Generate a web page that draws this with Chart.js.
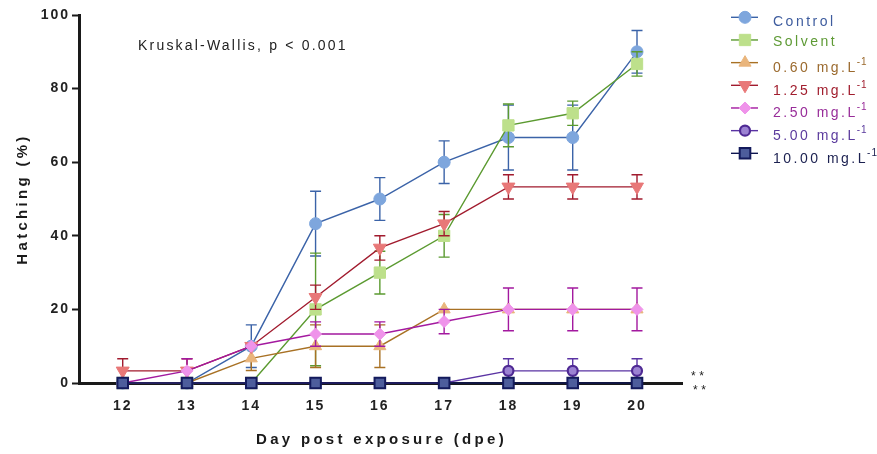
<!DOCTYPE html>
<html>
<head>
<meta charset="utf-8">
<script src="https://cdn.jsdelivr.net/npm/chart.js@4.4.0/dist/chart.umd.min.js"></script>
<style>
  html, body { margin: 0; padding: 0; background: #fff; }
</style>
</head>
<body>
<canvas id="chart" width="877" height="454"></canvas>
<script>
// days post exposure and y ticks
const days = [12, 13, 14, 15, 16, 17, 18, 19, 20];
const yTicks = [0, 20, 40, 60, 80, 100];
const groups = ['Control', 'Solvent', '0.60', '1.25', '2.50', '5.00', '10.00'];

// hatching (%) per group, with error (SEM)
const control   = [0, 0, 10, 43.3, 50, 60, 66.7, 66.7, 90];
const controlSd = [0, 0, 5.8, 8.8, 5.8, 5.8, 8.8, 8.8, 5.8];
const solvent   = [0, 0, 0, 20, 30, 40, 70, 73.3, 86.7];
const solventSd = [0, 0, 0, 15.3, 5.8, 5.8, 5.8, 3.3, 3.3];
const c060      = [0, 0, 6.7, 10, 10, 20, 20, 20, 20];
const c060Sd    = [0, 0, 3.3, 5.8, 5.8, 0, 0, 0, 0];
const c125      = [3.3, 3.3, 10, 23.3, 36.7, 43.3, 53.3, 53.3, 53.3];
const c125Sd    = [3.3, 3.3, 0, 3.3, 3.3, 3.3, 3.3, 3.3, 3.3];
const c250      = [0, 3.3, 10, 13.3, 13.3, 16.7, 20, 20, 20];
const c250Sd    = [0, 3.3, 0, 3.3, 3.3, 3.3, 5.8, 5.8, 5.8];
const c500      = [0, 0, 0, 0, 0, 0, 3.3, 3.3, 3.3];
const c500Sd    = [0, 0, 0, 0, 0, 0, 3.3, 3.3, 3.3];
const c1000     = [0, 0, 0, 0, 0, 0, 0, 0, 0];
const c1000Sd   = [0, 0, 0, 0, 0, 0, 0, 0, 0];

const values = [control, solvent, c060, c125, c250, c500, c1000];
const errors = [controlSd, solventSd, c060Sd, c125Sd, c250Sd, c500Sd, c1000Sd];

// styles
const lineColors = ['#3b63a8', '#5b9a30', '#a87124', '#a11b2e', '#a3199f', '#5a33a3', '#0f1650'];
const fillColors = ['#7ea6dd', '#bde08b', '#e9b57c', '#e87878', '#ef93ea', '#9b82d2', '#4d5d9c'];
const edgeColors = ['#7ea6dd', '#bde08b', '#e9b57c', '#e87878', '#ef93ea', '#4f2a94', '#131a5c'];
const textColors = ['#3e5c9e', '#5e9a35', '#9b6a2e', '#a11e2e', '#982c99', '#5b3b9d', '#1b2050'];
const shapes = ['circle', 'rect', 'triangle', 'triangle', 'rectRot', 'circle', 'rect'];
const rotations = [0, 0, 0, 180, 0, 0, 0];
const radii = [6, 8, 7, 7.5, 6, 5, 7.5];
const edgeWidths = [1, 1, 1, 1, 1, 2.2, 2];

const font = '"Liberation Sans", Arial, sans-serif';
const axisColor = '#1a1a1a';

const datasets = groups.map((g, i) => ({
  label: g,
  data: days.map((d, j) => ({ x: d, y: values[i][j] })),
  errors: errors[i],
  borderColor: lineColors[i],
  borderWidth: 1.4,
  pointStyle: shapes[i],
  pointRotation: rotations[i],
  pointRadius: radii[i],
  pointBackgroundColor: fillColors[i],
  pointBorderColor: edgeColors[i],
  pointBorderWidth: edgeWidths[i],
  fill: false,
  tension: 0,
  clip: false,
  order: groups.length - 1 - i
}));

function drawMarker(ctx, style, x, y, r, rot) {
  ctx.beginPath();
  if (style === 'circle') {
    ctx.arc(x, y, r, 0, Math.PI * 2);
  } else if (style === 'rect') {
    const s = r * Math.SQRT1_2;
    ctx.rect(x - s, y - s, 2 * s, 2 * s);
  } else if (style === 'triangle') {
    let a = rot * Math.PI / 180;
    ctx.moveTo(x + Math.sin(a) * r, y - Math.cos(a) * r);
    a += 2 * Math.PI / 3;
    ctx.lineTo(x + Math.sin(a) * r, y - Math.cos(a) * r);
    a += 2 * Math.PI / 3;
    ctx.lineTo(x + Math.sin(a) * r, y - Math.cos(a) * r);
    ctx.closePath();
  } else if (style === 'rectRot') {
    ctx.moveTo(x - r, y);
    ctx.lineTo(x, y - r);
    ctx.lineTo(x + r, y);
    ctx.lineTo(x, y + r);
    ctx.closePath();
  }
  ctx.fill();
  ctx.stroke();
}

const spacingPlugin = {
  id: 'spacing',
  beforeDraw(chart) {
    chart.ctx.letterSpacing = '2px';
  }
};

// error bars drawn just under each dataset
const errorBars = {
  id: 'errorBars',
  beforeDatasetDraw(chart, args) {
    const ds = chart.data.datasets[args.index];
    const { ctx, scales: { x, y } } = chart;
    ctx.save();
    ctx.strokeStyle = ds.borderColor;
    ctx.lineWidth = 1.4;
    ds.data.forEach((p, i) => {
      const e = ds.errors[i];
      if (!e) return;
      const px = x.getPixelForValue(p.x);
      const top = y.getPixelForValue(p.y + e);
      const bot = y.getPixelForValue(Math.max(p.y - e, 0));
      ctx.beginPath();
      ctx.moveTo(px, top); ctx.lineTo(px, bot);
      ctx.moveTo(px - 5.5, top); ctx.lineTo(px + 5.5, top);
      ctx.moveTo(px - 5.5, bot); ctx.lineTo(px + 5.5, bot);
      ctx.stroke();
    });
    ctx.restore();
  }
};

// axis titles, annotation text, and the legend with superscripts
const extras = {
  id: 'extras',
  afterDraw(chart) {
    const { ctx, chartArea: a } = chart;
    ctx.save();
    ctx.fillStyle = axisColor;
    ctx.font = 'bold 15px ' + font;
    ctx.letterSpacing = '3.3px';
    ctx.textAlign = 'center';
    ctx.textBaseline = 'middle';
    ctx.fillText('Day post exposure (dpe)', (a.left + a.right) / 2 + 1, 440);
    ctx.save();
    ctx.translate(22.5, (a.top + a.bottom) / 2);
    ctx.rotate(-Math.PI / 2);
    ctx.fillText('Hatching (%)', 0, 0);
    ctx.restore();

    ctx.textAlign = 'left';
    ctx.textBaseline = 'alphabetic';
    ctx.font = '14px ' + font;
    ctx.letterSpacing = '2.2px';
    ctx.fillStyle = '#222';
    ctx.fillText('Kruskal-Wallis, p < 0.001', 138, 50);

    ctx.font = '12px ' + font;
    ctx.letterSpacing = '3.5px';
    ctx.fillText('**', 691, 380);
    ctx.fillText('**', 693, 394);

    // legend
    groups.forEach((g, i) => {
      const yy = 17.3 + i * 22.67;
      ctx.strokeStyle = lineColors[i];
      ctx.lineWidth = 1.4;
      ctx.beginPath();
      ctx.moveTo(731, yy);
      ctx.lineTo(758, yy);
      ctx.stroke();
      ctx.fillStyle = fillColors[i];
      ctx.strokeStyle = edgeColors[i];
      ctx.lineWidth = edgeWidths[i];
      drawMarker(ctx, shapes[i], 745, yy, radii[i], rotations[i]);

      ctx.fillStyle = textColors[i];
      ctx.font = '14px ' + font;
      ctx.letterSpacing = '2.5px';
      const label = i < 2 ? g : g + ' mg.L';
      const base = yy + (i === 0 ? 8.4 : i === 1 ? 6 : 9.5);
      ctx.fillText(label, 773, base);
      if (i >= 2) {
        const w = ctx.measureText(label).width;
        ctx.font = '10px ' + font;
        ctx.letterSpacing = '1px';
        ctx.fillText('-1', 773 + w - 1, base - 7);
      }
    });
    ctx.restore();
  }
};

new Chart(document.getElementById('chart'), {
  type: 'line',
  data: { datasets },
  options: {
    responsive: false,
    animation: false,
    events: [],
    layout: { padding: { top: 15, right: 195, left: 0, bottom: 0 } },
    plugins: { legend: { display: false }, tooltip: { enabled: false } },
    scales: {
      x: {
        type: 'linear',
        min: 11.32,
        max: 20.7,
        afterBuildTicks: (scale) => { scale.ticks = days.map(v => ({ value: v })); },
        afterFit: (scale) => { scale.height = 71; },
        border: { display: true, color: axisColor, width: 3 },
        grid: { drawOnChartArea: false, drawTicks: true, tickLength: 4, tickWidth: 2, tickColor: axisColor },
        ticks: {
          autoSkip: false,
          maxRotation: 0,
          padding: 11,
          color: '#222',
          font: { family: font, size: 14, weight: 'bold' },
          callback: (v) => String(v)
        }
      },
      y: {
        min: 0,
        max: 100,
        afterBuildTicks: (scale) => { scale.ticks = yTicks.map(v => ({ value: v })); },
        afterFit: (scale) => { scale.width = 79; },
        border: { display: true, color: axisColor, width: 3 },
        grid: { drawOnChartArea: false, drawTicks: true, tickLength: 7, tickWidth: 2, tickColor: axisColor },
        ticks: {
          padding: 2,
          color: '#222',
          font: { family: font, size: 14, weight: 'bold' }
        }
      }
    }
  },
  plugins: [spacingPlugin, errorBars, extras]
});
</script>
</body>
</html>
